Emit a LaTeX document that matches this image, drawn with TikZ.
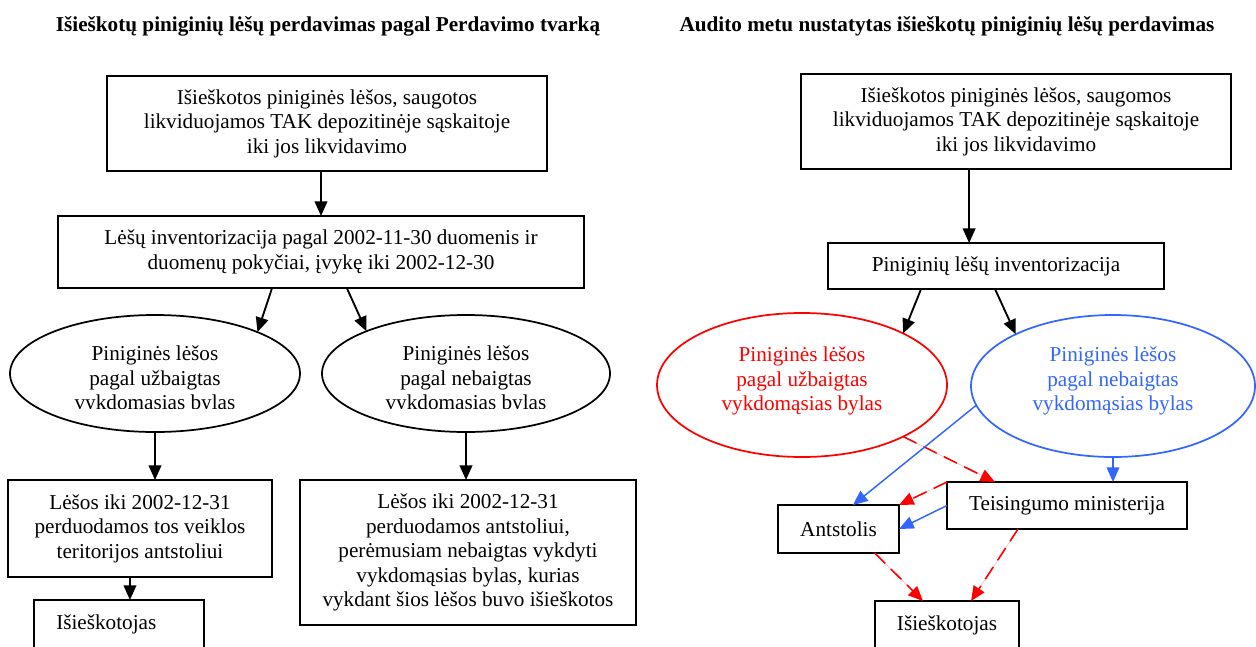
\documentclass[tikz,border=0pt]{standalone}
\usepackage{fontspec}
\setmainfont{Liberation Serif}
\usetikzlibrary{arrows.meta,calc,shapes.geometric}
\definecolor{myred}{RGB}{255,0,0}
\definecolor{myblue}{RGB}{51,102,255}
\begin{document}
\begin{tikzpicture}[x=0.75pt,y=-0.75pt,
  txt/.style={font=\fontsize{15.9}{18.4}\selectfont, align=center},
  box/.style={draw=black, line width=1.3pt, rectangle, inner sep=0pt, outer sep=0pt, txt},
  ell/.style={ellipse, inner sep=0pt, outer sep=0pt, line width=1.3pt, txt},
  ttl/.style={font=\fontsize{15.9}{18.4}\selectfont\bfseries},
  tipb/.style={-{Triangle[length=11pt,width=9.5pt]}},
  arr/.style={draw=black, line width=1.4pt, tipb},
  rdash/.style={draw=myred, line width=1.2pt, dash pattern=on 11pt off 6pt, tipb, fill=myred},
  barr/.style={draw=myblue, line width=1.1pt, tipb, fill=myblue},
]
\useasboundingbox (0,0) rectangle (1256,646);

% ---------- left ----------
\node[ttl] (t1) at (328,26) {Išieškotų piniginių lėšų perdavimas pagal Perdavimo tvarką};
\node[box, minimum width=330pt, minimum height=71.25pt] (b1) at (327,123.5)
  {Išieškotos piniginės lėšos, saugotos\\likviduojamos TAK depozitinėje sąskaitoje\\iki jos likvidavimo};
\node[box, minimum width=394.5pt, minimum height=54pt] (b2) at (321,252)
  {Lėšų inventorizacija pagal 2002-11-30 duomenis ir\\duomenų pokyčiai, įvykę iki 2002-12-30};
\node[ell, draw=black, minimum width=217.5pt, minimum height=87.75pt] (e1) at (155,373.5) {};
\node[ell, draw=black, minimum width=216pt, minimum height=87.75pt] (e2) at (466,373.5) {};
\begin{scope}
  \clip (0,300) rectangle (640,408);
  \node[txt] (e1t) at (155,380) {Piniginės lėšos\\pagal užbaigtas\\vykdomasias bylas};
  \node[txt] (e2t) at (466,380) {Piniginės lėšos\\pagal nebaigtas\\vykdomasias bylas};
\end{scope}
\node[box, minimum width=198pt, minimum height=72.75pt] (b3) at (140,528.5)
  {Lėšos iki 2002-12-31\\perduodamos tos veiklos\\teritorijos antstoliui};
\node[box, minimum width=252pt, minimum height=108.75pt] (b4) at (468,552.5)
  {Lėšos iki 2002-12-31\\perduodamos antstoliui,\\perėmusiam nebaigtas vykdyti\\vykdomąsias bylas, kurias\\vykdant šios lėšos buvo išieškotos};
\node[box, minimum width=127.5pt, minimum height=36pt] (b5) at (119,624) {};
\node[txt, anchor=west, inner sep=0pt] (b5t) at (56,624) {Išieškotojas};

\draw[arr] (b2.north |- b1.south) -- (b2.north);
\draw[arr] ($(b2.south west)!0.407!(b2.south east)$) -- (e1.22);
\draw[arr] ($(b2.south west)!0.549!(b2.south east)$) -- (e2.157);
\draw[arr] (e1.south) -- (e1.south |- b3.north);
\draw[arr] (e2.south) -- (e2.south |- b4.north);
\coordinate (b3o) at ($(b3.south west)!0.462!(b3.south east)$);
\draw[arr] (b3o) -- (b3o |- b5.north);

% ---------- right ----------
\node[ttl] (t2) at (947,26) {Audito metu nustatytas išieškotų piniginių lėšų perdavimas};
\node[box, minimum width=322.5pt, minimum height=71.25pt] (r1) at (1016,121.5)
  {Išieškotos piniginės lėšos, saugomos\\likviduojamos TAK depozitinėje sąskaitoje\\iki jos likvidavimo};
\node[box, minimum width=252pt, minimum height=34.5pt] (r2) at (996,266)
  {Piniginių lėšų inventorizacija};
\node[ell, draw=myred, minimum width=217.5pt, minimum height=108pt] (re) at (802,385) {};
\node[txt, text=myred] (ret) at (802,381) {Piniginės lėšos\\pagal užbaigtas\\vykdomąsias bylas};
\node[ell, draw=myblue, minimum width=213pt, minimum height=106.5pt] (be) at (1113,386) {};
\node[txt, text=myblue] (bet) at (1113,381) {Piniginės lėšos\\pagal nebaigtas\\vykdomąsias bylas};
\node[box, minimum width=90.75pt, minimum height=36pt] (at) at (838.5,529) {Antstolis};
\node[box, minimum width=180pt, minimum height=35.25pt] (tm) at (1067,505.5) {Teisingumo ministerija};
\node[box, minimum width=108pt, minimum height=36pt] (ri) at (947,625) {Išieškotojas};

\coordinate (r2i) at ($(r2.north west)!0.42!(r2.north east)$);
\draw[arr] (r2i |- r1.south) -- (r2i);
\draw[arr] ($(r2.south west)!0.277!(r2.south east)$) -- (re.27);
\draw[arr] ($(r2.south west)!0.497!(r2.south east)$) -- (be.152);
\draw[rdash] (re.333) -- ($(tm.north west)!0.2!(tm.north east)$);
\draw[barr] (be.188) -- ($(at.north west)!0.62!(at.north east)$);
\draw[rdash] (tm.north west) -- (at.north east);
\draw[barr] (tm.west) -- (at.east);
\draw[rdash] ($(at.south west)!0.8!(at.south east)$) -- ($(ri.north west)!0.333!(ri.north east)$);
\draw[rdash] ($(tm.south west)!0.296!(tm.south east)$) -- ($(ri.north west)!0.667!(ri.north east)$);
\draw[barr] (be.south) -- (be.south |- tm.north);
\end{tikzpicture}
\end{document}
